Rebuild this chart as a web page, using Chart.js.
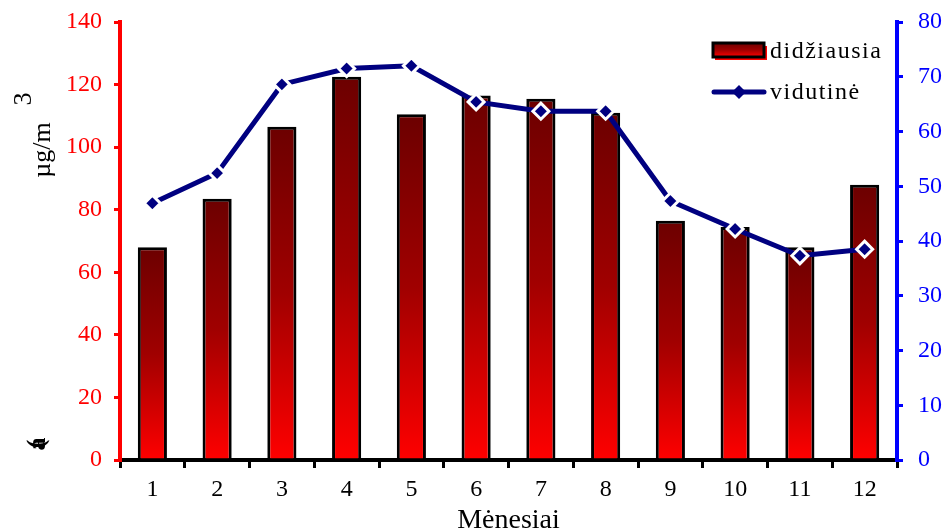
<!DOCTYPE html>
<html lang="lt">
<head>
  <meta charset="UTF-8">
  <title>didžiausia ir vidutinė koncentracija</title>
  <style>
    body { margin: 0; background: #fff; }
    #chart { display: block; }
  </style>
</head>
<body>
  <canvas id="chart" width="945" height="531"></canvas>

  <script src="https://cdn.jsdelivr.net/npm/chart.js"></script>
  <script>
    // duomenys
    const menesiai = ['1', '2', '3', '4', '5', '6', '7', '8', '9', '10', '11', '12'];
    const didziausia = [68, 83.5, 106.5, 122.5, 110.5, 116.5, 115.5, 111, 76.5, 74.5, 68, 88];
    const vidutine = [46.9, 52.4, 68.6, 71.5, 72.0, 65.4, 63.7, 63.7, 47.3, 42.2, 37.3, 38.5];
    const kairesTicks = [0, 20, 40, 60, 80, 100, 120, 140];
    const desinesTicks = [0, 10, 20, 30, 40, 50, 60, 70, 80];

    const serif = 'Liberation Serif';

    function barGradient(ctx, top, bottom) {
      const g = ctx.createLinearGradient(0, top, 0, bottom);
      g.addColorStop(0, '#6c0000');
      g.addColorStop(0.5, '#a00000');
      g.addColorStop(1, '#ff0000');
      return g;
    }

    // legenda ir kairės ašies pavadinimas
    const extras = {
      id: 'extras',
      afterDraw(chart) {
        const ctx = chart.ctx;
        const ds = chart.data.datasets;
        ctx.save();

        // legenda - stulpelis
        ctx.fillStyle = '#ff0000';
        ctx.fillRect(715, 46, 52, 14);
        ctx.fillStyle = barGradient(ctx, 43, 57);
        ctx.fillRect(713, 43, 51, 14);
        ctx.strokeStyle = '#000';
        ctx.lineWidth = 3;
        ctx.strokeRect(713, 43, 51, 14);

        ctx.font = '24px "' + serif + '"';
        ctx.letterSpacing = '1.5px';
        ctx.fillStyle = '#000';
        ctx.textAlign = 'left';
        ctx.textBaseline = 'middle';
        ctx.fillText(ds[0].label, 770, 52);

        // legenda - linija
        ctx.strokeStyle = '#000080';
        ctx.lineWidth = 5;
        ctx.lineCap = 'round';
        ctx.beginPath();
        ctx.moveTo(714, 92);
        ctx.lineTo(764, 92);
        ctx.stroke();
        ctx.fillStyle = '#000080';
        ctx.beginPath();
        ctx.moveTo(739, 85); ctx.lineTo(746, 92); ctx.lineTo(739, 99); ctx.lineTo(732, 92);
        ctx.closePath();
        ctx.fill();
        ctx.fillStyle = '#000';
        ctx.fillText(ds[1].label, 770, 93);
        ctx.letterSpacing = '0px';

        // kairės ašies pavadinimas (pasukti simboliai)
        ctx.font = '26px "' + serif + '"';
        ctx.textAlign = 'center';
        ctx.fillStyle = '#000';
        const rot = (txt, x, y) => {
          ctx.save();
          ctx.translate(x, y);
          ctx.rotate(-Math.PI / 2);
          ctx.fillText(txt, 0, 0);
          ctx.restore();
        };
        rot('µg/m', 43, 150);
        rot('3', 24, 99);
        ctx.font = 'bold 26px "' + serif + '"';
        rot('(', 37, 444);
        rot('a', 38, 444);
        ctx.restore();
      }
    };

    new Chart(document.getElementById('chart'), {
      type: 'bar',
      data: {
        labels: menesiai,
        datasets: [{
          type: 'bar',
          label: 'didžiausia',
          data: didziausia,
          yAxisID: 'y',
          order: 2,
          backgroundColor: (c) => {
            const chart = c.chart;
            const area = chart.chartArea;
            if (!area || !c.parsed) return '#b00000';
            const top = chart.scales.y.getPixelForValue(c.parsed.y);
            return barGradient(chart.ctx, top, area.bottom);
          },
          borderColor: '#000',
          borderWidth: 3,
          barPercentage: 0.45,
          categoryPercentage: 1.0
        }, {
          type: 'line',
          label: 'vidutinė',
          data: vidutine,
          yAxisID: 'y2',
          order: 1,
          borderColor: '#000080',
          borderWidth: 5,
          tension: 0,
          pointStyle: 'rectRot',
          pointRadius: 8,
          pointBackgroundColor: '#000080',
          pointBorderColor: '#ffffff',
          pointBorderWidth: 3
        }]
      },
      options: {
        responsive: false,
        animation: false,
        layout: { padding: { top: 22, left: 0, right: 0, bottom: 0 } },
        plugins: {
          legend: { display: false },
          tooltip: { enabled: false }
        },
        scales: {
          x: {
            offset: true,
            grid: {
              offset: true,
              drawOnChartArea: false,
              drawTicks: true,
              tickLength: 8,
              color: '#000',
              lineWidth: 3
            },
            border: { color: '#000', width: 4 },
            ticks: {
              color: '#000',
              font: { family: serif, size: 24 },
              padding: 7
            },
            title: {
              display: true,
              text: 'Mėnesiai',
              color: '#000',
              font: { family: serif, size: 28, lineHeight: 1 },
              padding: { top: 0, bottom: -4 }
            },
            afterFit: (s) => { s.height = 71; s.paddingLeft = 0; s.paddingRight = 0; }
          },
          y: {
            position: 'left',
            min: 0,
            max: 140,
            afterBuildTicks: (s) => { s.ticks = kairesTicks.map(v => ({ value: v })); },
            grid: {
              drawOnChartArea: false,
              drawTicks: true,
              tickLength: 6,
              color: '#ff0000',
              lineWidth: 3
            },
            border: { color: '#ff0000', width: 4 },
            ticks: {
              color: '#ff0000',
              font: { family: serif, size: 24 },
              padding: 12
            },
            afterFit: (s) => { s.width = 120; s.paddingTop = 0; s.paddingBottom = 0; }
          },
          y2: {
            position: 'right',
            min: 0,
            max: 80,
            afterBuildTicks: (s) => { s.ticks = desinesTicks.map(v => ({ value: v })); },
            grid: {
              drawOnChartArea: false,
              drawTicks: true,
              tickLength: 6,
              color: '#0000ff',
              lineWidth: 3
            },
            border: { color: '#0000ff', width: 4 },
            ticks: {
              color: '#0000ff',
              font: { family: serif, size: 24 },
              padding: 15
            },
            afterFit: (s) => { s.width = 48; s.paddingTop = 0; s.paddingBottom = 0; }
          }
        }
      },
      plugins: [extras]
    });
  </script>
</body>
</html>
